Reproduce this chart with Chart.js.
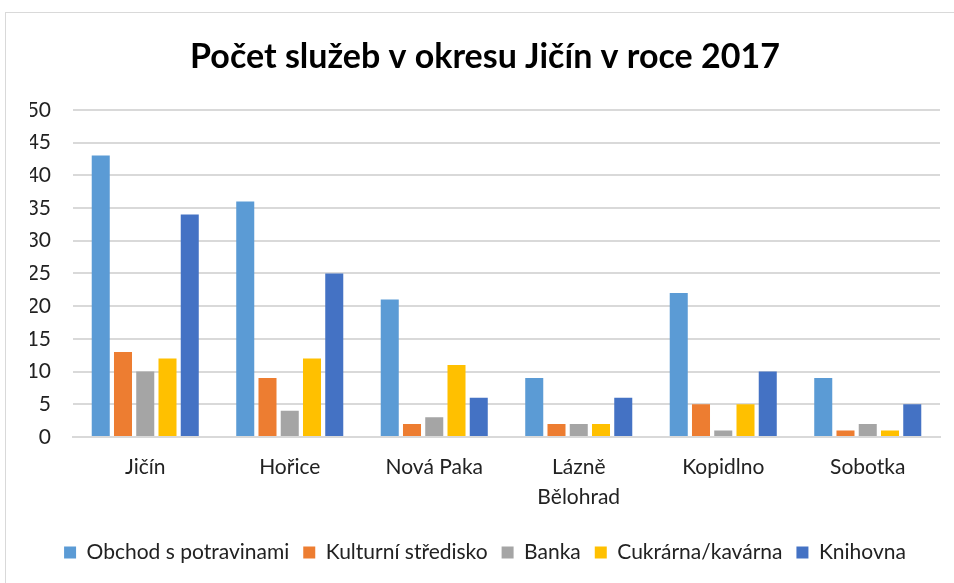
<!DOCTYPE html>
<html><head><meta charset="utf-8">
<script src="https://cdn.jsdelivr.net/npm/chart.js@4/dist/chart.umd.min.js"></script>
<style>
html,body{margin:0;padding:0;background:#fff;}
#wrap{position:absolute;left:0;top:0;width:954px;height:583px;}
#frame{position:absolute;left:5px;top:12px;width:960px;height:600px;border:1px solid #d9d9d9;box-sizing:border-box;}
canvas{position:absolute;left:0;top:0;}
</style></head>
<body><div id="wrap"><div id="frame"></div><canvas id="c" width="954" height="583"></canvas></div>
<script>
const categories = ["Jičín", "Hořice", "Nová Paka", ["Lázně", "Bělohrad"], "Kopidlno", "Sobotka"];
const seriesNames = ["Obchod s potravinami", "Kulturní středisko", "Banka", "Cukrárna/kavárna", "Knihovna"];
const obchod = [43, 36, 21, 9, 22, 9];
const kultura = [13, 9, 2, 2, 5, 1];
const banka = [10, 4, 3, 2, 1, 2];
const cukrarna = [12, 12, 11, 2, 5, 1];
const knihovna = [34, 25, 6, 6, 10, 5];
const colors = ["#5B9BD5", "#ED7D31", "#A5A5A5", "#FFC000", "#4472C4"];
const titleText = "Počet služeb v okresu Jičín v roce 2017";

const FONT = "Lato, 'Open Sans', sans-serif";
const values = [obchod, kultura, banka, cukrarna, knihovna];
new Chart(document.getElementById('c'), {
  type: 'bar',
  data: {
    labels: categories,
    datasets: seriesNames.map((n, i) => ({
      label: n, data: values[i], backgroundColor: colors[i],
      borderWidth: 0,
      categoryPercentage: 0.77, barPercentage: 0.81
    }))
  },
  options: {
    responsive: false, animation: false,
    layout: { padding: { left: 30, right: 14, top: 0, bottom: 10 } },
    plugins: {
      title: { display: true, text: titleText, color: '#000',
        font: { family: FONT, size: 34, weight: 'bold', lineHeight: 1.2 }, padding: { top: 37, bottom: 32 } },
      legend: { position: 'bottom', labels: { color: '#222', font: { family: FONT, size: 21 },
        boxWidth: 12, boxHeight: 12, padding: 14 } },
      tooltip: { enabled: false }
    },
    scales: {
      x: {
        afterFit: s => { s.height = 91; },
        grid: { display: false, drawTicks: false },
        border: { color: '#d9d9d9', width: 2 },
        ticks: { color: '#222', font: { family: FONT, size: 21, lineHeight: 1.4 }, padding: 16, maxRotation: 0, autoSkip: false }
      },
      y: {
        min: 0, max: 50,
        afterFit: s => { s.width = 43; },
        grid: { color: '#d9d9d9', lineWidth: 2, drawTicks: false },
        border: { display: false },
        ticks: { stepSize: 5, color: '#222', font: { family: FONT, size: 21 }, padding: 22 }
      }
    }
  }
});
</script></body></html>
